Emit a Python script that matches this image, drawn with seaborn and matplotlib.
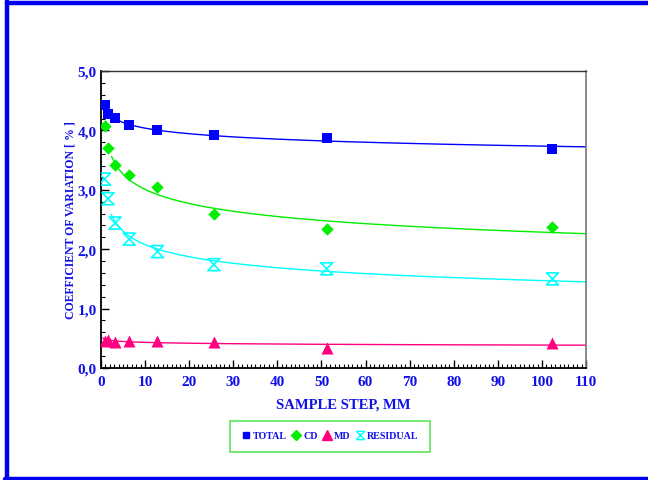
import numpy as np
import pandas as pd
import matplotlib
matplotlib.use("Agg")
import matplotlib.pyplot as plt
from matplotlib.path import Path
from matplotlib.lines import Line2D
from matplotlib.ticker import MultipleLocator, FuncFormatter
import seaborn as sns

# ---- data ----
sample_step = [0.8, 1.6, 3.2, 6.4, 12.8, 25.6, 51.2, 102.4]
total = [4.43, 4.28, 4.21, 4.09, 4.00, 3.92, 3.87, 3.69]
cd = [4.07, 3.71, 3.41, 3.25, 3.04, 2.60, 2.34, 2.38]
md = [0.46, 0.47, 0.44, 0.45, 0.45, 0.44, 0.33, 0.42]
residual = [3.18, 2.85, 2.44, 2.17, 1.96, 1.74, 1.67, 1.50]
series_names = ["TOTAL", "CD", "MD", "RESIDUAL"]

BLUE = "#0000ff"
GREEN = "#00ee00"
PINK = "#ff0080"
CYAN = "#00ffff"
TXT = "#1010e8"

sns.set_theme(style="white")
plt.rcParams["font.family"] = ["Liberation Serif", "DejaVu Serif"]
plt.rcParams["font.weight"] = "bold"

fig = plt.figure(figsize=(6.48, 4.81), dpi=100)
ax = fig.add_axes([101 / 648, 1 - 369 / 481, (586 - 101) / 648, (369 - 72) / 481])

hourglass = Path([(-1, 1), (1, 1), (-1, -1), (1, -1), (-1, 1)],
                 [Path.MOVETO, Path.LINETO, Path.LINETO, Path.LINETO, Path.CLOSEPOLY])

df = pd.DataFrame({"x": sample_step, "TOTAL": total, "CD": cd, "MD": md, "RESIDUAL": residual})

styles = {
    "TOTAL": dict(color=BLUE, marker="s", s=45, fit_from=1.6),
    "CD": dict(color=GREEN, marker="D", s=40, fit_from=2.4),
    "MD": dict(color=PINK, marker="^", s=75, fit_from=0.4),
    "RESIDUAL": dict(color=CYAN, marker=hourglass, s=75, fit_from=2.3),
}

for name in series_names:
    st = styles[name]
    xs = np.array(sample_step)
    ys = df[name].to_numpy()
    mask = xs >= 1.0
    b, a = np.polyfit(np.log(xs[mask]), np.log(ys[mask]), 1)
    xf = np.linspace(st["fit_from"], 110, 300)
    yf = np.exp(a) * xf ** b
    sns.lineplot(x=xf, y=yf, ax=ax, color=st["color"], lw=1.0, zorder=2)
    if name == "RESIDUAL":
        sns.scatterplot(x=xs, y=ys, ax=ax, marker=hourglass, s=st["s"],
                        facecolor="none", edgecolor=st["color"], linewidth=1.2, zorder=3)
    else:
        sns.scatterplot(x=xs, y=ys, ax=ax, marker=st["marker"], s=st["s"],
                        color=st["color"], edgecolor=st["color"], linewidth=0, zorder=3)

ax.set_xlim(0, 110)
ax.set_ylim(0, 5)
ax.xaxis.set_major_locator(MultipleLocator(10))
ax.xaxis.set_minor_locator(MultipleLocator(1))
ax.yaxis.set_major_locator(MultipleLocator(1))
ax.yaxis.set_minor_locator(MultipleLocator(0.2))
ax.yaxis.set_major_formatter(FuncFormatter(lambda v, p: f"{v:.1f}".replace(".", ",")))
ax.tick_params(axis="both", which="both", bottom=True, left=True, top=False, right=False)
ax.tick_params(axis="both", which="major", direction="in", length=6, width=1.0,
               colors="black", labelcolor=TXT, labelsize=11)
ax.tick_params(axis="both", which="minor", direction="in", length=3, width=0.8, colors="black")
ax.tick_params(axis="x", which="major", pad=5)
ax.tick_params(axis="y", which="major", pad=3)
for lab in ax.get_xticklabels() + ax.get_yticklabels():
    lab.set_fontweight("bold")

for sp in ["left", "bottom"]:
    ax.spines[sp].set_color("black")
    ax.spines[sp].set_linewidth(1.3)
ax.spines["top"].set_color("#333333")
ax.spines["top"].set_linewidth(1.0)
ax.spines["right"].set_color("#777777")
ax.spines["right"].set_linewidth(1.2)

ax.set_xlabel("SAMPLE STEP, MM", color=TXT, fontsize=10.5, fontweight="bold", labelpad=7)
ax.set_ylabel("COEFFICIENT OF VARIATION [ % ]", color=TXT, fontsize=8.5, fontweight="bold")
ax.yaxis.set_label_coords(-0.051, 0.5)

# legend
handles = [
    Line2D([], [], ls="none", marker="s", color=BLUE, markersize=5),
    Line2D([], [], ls="none", marker="D", color=GREEN, markersize=5),
    Line2D([], [], ls="none", marker="^", color=PINK, markersize=6.5),
    Line2D([], [], ls="none", marker=hourglass, markerfacecolor="none",
           markeredgecolor=CYAN, markeredgewidth=1.0, markersize=6),
]
leg = fig.legend(handles, series_names, loc="center", bbox_to_anchor=(330 / 648, 1 - 437 / 481),
                 ncol=4, frameon=True, fancybox=False, edgecolor="#33dd33",
                 handlelength=0.9, handletextpad=0.25, columnspacing=0.5,
                 borderpad=1.1, prop={"family": ["Liberation Serif"], "weight": "bold", "size": 7.2})
leg.get_frame().set_linewidth(1.2)
for t in leg.get_texts():
    t.set_color(TXT)

# outer blue frame (top, left, bottom)
frame_kw = dict(color="#0000ee", linewidth=3.2, transform=fig.transFigure, clip_on=False)
fig.add_artist(Line2D([6.5 / 648, 1.0], [1 - 4 / 481, 1 - 4 / 481], **frame_kw))
fig.add_artist(Line2D([6.5 / 648, 6.5 / 648], [1 - 2 / 481, 1.5 / 481], **frame_kw))
fig.add_artist(Line2D([5 / 648, 1.0], [1.5 / 481, 1.5 / 481], **frame_kw))

fig.savefig("out.png", dpi=100)
